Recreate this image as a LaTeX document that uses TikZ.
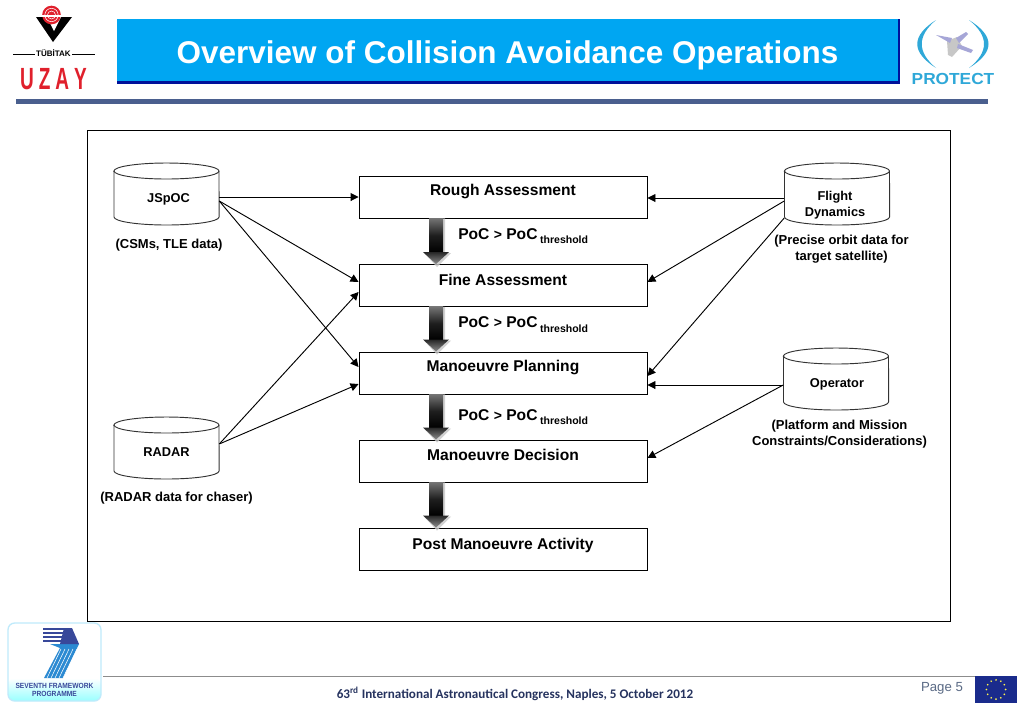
\documentclass[tikz,border=0pt]{standalone}
\usepackage{fontspec}
\setmainfont{Liberation Sans}
\newfontfamily\carl{Carlito}
\usetikzlibrary{calc,arrows.meta,shadings}
\definecolor{titleblue}{HTML}{00A6F2}
\definecolor{titledark}{HTML}{00119A}
\definecolor{barblue}{HTML}{4A5F8E}
\definecolor{uzayred}{HTML}{E0202C}
\definecolor{protectblue}{HTML}{2FA8D8}
\definecolor{fpblue}{HTML}{2C8AD2}
\definecolor{fpnavy}{HTML}{38489A}
\definecolor{eublue}{HTML}{1A2B8C}
\definecolor{pagegrey}{HTML}{5A6A85}
\definecolor{footnavy}{HTML}{26335F}
\tikzset{
  x=0.75pt,y=-0.75pt,
  boxnode/.style={draw=black,line width=0.7pt,fill=white,minimum width=216pt,minimum height=31.5pt,inner sep=0pt},
  boxlabel/.style={yshift=4.5pt,inner sep=0pt,font=\fontsize{11.7}{13}\selectfont\bfseries},
  cylnode/.style={inner sep=0pt,minimum width=78.75pt,minimum height=1pt},
  cyltext/.style={inner sep=0pt,align=center,font=\fontsize{9.6}{12}\selectfont\bfseries},
  captext/.style={align=center,inner sep=0pt,font=\fontsize{9.75}{12}\selectfont\bfseries},
  poc/.style={anchor=west,inner sep=0pt,font=\fontsize{11.7}{13}\selectfont\bfseries},
  link/.style={draw=black,line width=0.7pt,-{Triangle[length=6pt,width=6pt]}},
  cylline/.style={draw=black!80,line width=0.7pt,fill=white},
}
\newcommand{\poctext}{PoC {\fontsize{10.5}{13}\selectfont>} PoC\,{\fontsize{7.9}{9}\selectfont\raisebox{-3.5pt}{threshold}}}
\newcommand{\cyl}[4]{% cx, top, bottom, ry
  \path[cylline] (#1-52.5,#2+#4) -- (#1-52.5,#3-#4) arc[start angle=180,end angle=360,x radius=39.4pt,y radius=#4*0.75pt]
     -- (#1+52.5,#2+#4) arc[start angle=0,end angle=180,x radius=39.4pt,y radius=#4*0.75pt] -- cycle;
  \draw[draw=black!80,line width=0.7pt] (#1-52.5,#2+#4) arc[start angle=180,end angle=360,x radius=39.4pt,y radius=#4*0.75pt];
}
\newcommand{\blockarrow}[2]{% from node south to node north
  \coordinate (ba) at ($(#1.south)+(-67,0)$);
  \coordinate (bb) at ($(#2.north)+(-67,0)$);
  \fill[gray!45,opacity=.8] ($(ba)+(-6,0)$) -- ($(ba)+(9,0)$) -- ($(bb)+(9,-11)$) -- ($(bb)+(15,-11)$) -- ($(bb)+(1,3)$) -- ($(bb)+(-12,-11)$) -- ($(bb)+(-6,-11)$) -- cycle;
  \shade[top color=black!55,bottom color=black,middle color=black!88] ($(ba)+(-7,0)$) -- ($(ba)+(7,0)$) -- ($(bb)+(7,-12)$) -- ($(bb)+(-7,-12)$) -- cycle;
  \shade[top color=black!85,bottom color=black!45] ($(bb)+(-13,-12)$) -- ($(bb)+(13,-12)$) -- (bb) -- cycle;
}
\begin{document}
\begin{tikzpicture}
\useasboundingbox (0,0) rectangle (1023,708);
\fill[white] (0,0) rectangle (1023,708);

% header band
\fill[titledark] (117,19) rectangle (900,84);
\fill[titleblue] (117,19) rectangle (898,81);
\node[text=white,font=\fontsize{23.6}{26}\selectfont\bfseries,inner sep=0pt] (title) at (507.5,55) {Overview of Collision Avoidance Operations};
\fill[barblue] (16,99) rectangle (988,104);

% TUBITAK logo
\fill[black] (36,17) -- (72,17) -- (53,42) -- cycle;
\fill[white] (47,17) -- (61,17) -- (54,31) -- cycle;
\fill[uzayred] (51.5,15) circle[radius=7pt];
\draw[white,line width=0.4pt] (51.5,15) circle[radius=5pt] (51.5,15) circle[radius=3pt];
\fill[white] (42,15) rectangle (61,16.5);
\draw[black,line width=0.6pt] (13,54.5) -- (35,54.5) (72,54.5) -- (95,54.5);
\node[inner sep=0pt,font=\fontsize{6}{6}\selectfont\bfseries] (tubitak) at (53.5,53) {TÜBİTAK};
\node[inner sep=0pt,text=uzayred,font=\fontsize{23}{24}\selectfont\bfseries,xscale=.62] (uzay) at (53.5,79) {U\hspace{6pt}Z\hspace{6pt}A\hspace{6pt}Y};

% PROTECT logo
\fill[protectblue] (936,20) .. controls (911,36) and (911,52) .. (936,68) .. controls (917,52) and (917,36) .. cycle;
\fill[protectblue] (969,20) .. controls (995,36) and (995,52) .. (969,68) .. controls (989,52) and (989,36) .. cycle;
\fill[black!22] (947,41) -- (957,37) -- (962,46) -- (952,57) -- (948,55) -- cycle;
\fill[black!45!blue!35] (936,35) -- (952,38) -- (950,43) -- cycle;
\fill[black!45!blue!35] (956,38) -- (966,32) -- (968,34) -- (959,43) -- cycle;
\fill[black!45!blue!35] (958,44) -- (973,50) -- (971,53) -- (957,48) -- cycle;
\node[inner sep=0pt,text=protectblue,font=\fontsize{12}{14}\selectfont\bfseries,xscale=1.08] (protect) at (953,79) {PROTECT};

% frame
\draw[black,line width=0.7pt,fill=white] (87,130) rectangle (950,621);

% process boxes
\node[boxnode,label={[boxlabel]center:Rough Assessment}] (rough) at (503,197) {};
\node[boxnode,label={[boxlabel]center:Fine Assessment}] (fine) at (503,285.5) {};
\node[boxnode,label={[boxlabel,yshift=-0.5pt]center:Manoeuvre Planning}] (plan) at (503,373) {};
\node[boxnode,label={[boxlabel]center:Manoeuvre Decision}] (decide) at (503,461) {};
\node[boxnode,label={[boxlabel,yshift=-1.5pt]center:Post Manoeuvre Activity}] (post) at (503,549) {};

% block arrows
\blockarrow{rough}{fine}
\blockarrow{fine}{plan}
\blockarrow{plan}{decide}
\blockarrow{decide}{post}

% PoC labels
\node[poc] (poc1) at (458,236) {\poctext};
\node[poc] (poc2) at (458,324.5) {\poctext};
\node[poc] (poc3) at (458,417) {\poctext};

% cylinders
\cyl{166.5}{163}{225}{8}
\node[cylnode] (jspoc) at (166.5,197) {};
\node[cyltext] (jspoctext) at (168.5,199) {JSpOC};
\cyl{166.5}{417}{479}{8}
\node[cylnode] (radar) at (166.5,444) {};
\node[cyltext] (radartext) at (166.5,452) {RADAR};
\cyl{837}{163}{225}{8}
\node[cylnode] (flight) at (837,198) {};
\node[cyltext] (flighttext) at (835,205) {Flight\\Dynamics};
\cyl{836}{348}{410}{8}
\node[cylnode] (oper) at (836,385) {};
\node[cyltext] (opertext) at (837,384) {Operator};

% captions
\node[captext] (c1) at (169,245) {(CSMs, TLE data)};
\node[captext] (c2) at (176.5,498) {(RADAR data for chaser)};
\node[captext] (c3) at (841.5,249.5) {(Precise orbit data for\\target satellite)};
\node[captext] (c4) at (839.5,434) {(Platform and Mission\\Constraints/Considerations)};

% connectors
\draw[link] (jspoc.east) -- (rough.west);
\draw[link] ($(jspoc.east)+(0,4)$) -- ($(fine.west)+(0,-3.5)$);
\draw[link] ($(jspoc.east)+(0,4)$) -- ($(plan.west)+(0,-6)$);
\draw[link] (radar.east) -- ($(fine.west)+(0,6.5)$);
\draw[link] (radar.east) -- ($(plan.west)+(0,11)$);
\draw[link] (flight.west) -- ($(rough.east)+(0,1)$);
\draw[link] ($(flight.west)+(0,3)$) -- ($(fine.east)+(0,-3.5)$);
\draw[link] ($(flight.west)+(0,20)$) -- ($(plan.east)+(0,3)$);
\draw[link] (oper.west) -- ($(plan.east)+(0,12)$);
\draw[link] (oper.west) -- ($(decide.east)+(0,-3)$);

% footer
\draw[black!45,line width=0.7pt] (103,676) -- (975,676);
\node[inner sep=0pt,text=footnavy,font=\carl\fontsize{9.84}{11}\selectfont\bfseries] (foot) at (515,694) {63\textsuperscript{rd} International Astronautical Congress, Naples, 5 October 2012};
\node[inner sep=0pt,text=pagegrey,font=\fontsize{9.9}{11}\selectfont] (page) at (942,688) {Page 5};

% EU flag
\fill[eublue] (975,676) rectangle (1017,703);
\foreach \a in {0,30,...,330} \fill[yellow!70!white] ($(996,689.5)+(\a:7.2pt)$) circle[radius=.7pt];

% FP7 logo
\fill[white] (8,623) rectangle (101,701);
\shade[top color=white,bottom color=cyan!40,rounded corners=5pt] (8,678) rectangle (101,701);
\draw[cyan!25,line width=1pt,rounded corners=5pt] (8,623) rectangle (101,701);
\fill[fpblue] (50,644) -- (79,644) -- (63,678) -- (44,678) -- (60,648) -- cycle;
\fill[fpnavy] (64,628) -- (72,628) -- (79,644) -- (60,644) -- cycle;
\foreach \y in {628,632,636,640} \fill[fpnavy] (43,\y) rectangle (70,\y+2.4);
\foreach \d in {0,4,8,12,16} \draw[white,line width=0.4pt] (47+\d,678) -- (61+\d,649);
\node[inner sep=0pt,text=fpnavy,font=\fontsize{5.6}{6.2}\selectfont\bfseries,align=center,xscale=.89] (fp) at (54.5,690) {SEVENTH FRAMEWORK\\PROGRAMME};
\end{tikzpicture}
\end{document}
